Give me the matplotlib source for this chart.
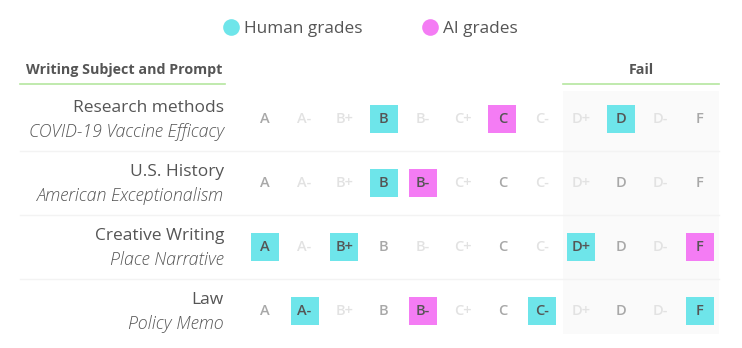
#!/usr/bin/env python

import matplotlib
matplotlib.use('Agg')
from matplotlib import pyplot as plt
from matplotlib.patches import Rectangle

# Data
grades = ['A', 'A-', 'B+', 'B', 'B-', 'C+', 'C', 'C-', 'D+', 'D', 'D-', 'F']
subjects = ['Research methods', 'U.S. History', 'Creative Writing', 'Law']
prompts = ['COVID-19 Vaccine Efficacy', 'American Exceptionalism',
           'Place Narrative', 'Policy Memo']
human_grades = [['B', 'D'], ['B'], ['A', 'B+', 'D+'], ['A-', 'C-', 'F']]
ai_grades = [['C'], ['B-'], ['F'], ['B-']]
fail_grades = ['D+', 'D', 'D-', 'F']

HUMAN = '#6ee5ea'
AI = '#f47cf4'
GREEN = '#b5e6a0'

plt.rcParams['font.family'] = ['Open Sans', 'DejaVu Sans']

W, H = 742, 348
fig = plt.figure(figsize=(W / 100, H / 100), dpi=100)
ax = fig.add_axes([0, 0, 1, 1])

# pixel layout of the grid: column i, row j
x0, dx = 265, 39.55
y0, dy = 119, 64
ax.set_xlim(-x0 / dx, (W - x0) / dx)
ax.set_ylim((H - y0) / dy, -y0 / dy)
ax.axis('off')


def px(x):
    return (x - x0) / dx


def py(y):
    return (y - y0) / dy


bw, bh = 28 / dx, 28 / dy

# fail shading + header
fi = grades.index(fail_grades[0])
fl, fr = fi - 0.5 + 0.04, len(grades) - 0.5 - 0.02
ax.add_patch(Rectangle((fl, py(91)), fr - fl, py(334) - py(91),
                       facecolor='#fafafa', edgecolor='none', zorder=0))
ax.plot([fl, fr], [py(84), py(84)], color=GREEN, lw=1.2)
ax.text((fl + fr) / 2, py(70), 'Fail', ha='center', va='center',
        fontsize=10.3, fontweight='bold', color='#555555')

ax.plot([px(20), px(225)], [py(84), py(84)], color=GREEN, lw=1.2)
ax.text(px(222), py(70), 'Writing Subject and Prompt', ha='right',
        va='center', fontsize=10.3, fontweight='bold', color='#555555')

# legend
for cx, col, lab in [(231, HUMAN, 'Human grades'), (430, AI, 'AI grades')]:
    ax.plot(px(cx), py(27), 'o', ms=12, color=col, mec='none')
    ax.text(px(cx + 13), py(29), lab, ha='left', va='center',
            fontsize=12.4, color='#555555')

for j, (subj, prm) in enumerate(zip(subjects, prompts)):
    ax.text(px(224), j + py(108) - py(119), subj, ha='right', va='center',
            fontsize=12.5, color='#555555')
    ax.text(px(224), j + py(132) - py(119), prm, ha='right', va='center',
            fontsize=12.8, style='italic', fontweight='light',
            color='#555555')
    if j < len(subjects) - 1:
        ax.plot([px(20), fr], [j + 0.5, j + 0.5], color='#f3f3f3', lw=1,
                zorder=0.5)
    for i, g in enumerate(grades):
        col = None
        if g in human_grades[j]:
            col = HUMAN
        elif g in ai_grades[j]:
            col = AI
        if col:
            ax.add_patch(Rectangle((i - bw / 2, j - bh / 2), bw, bh,
                                   facecolor=col, edgecolor='none', zorder=1))
            tc = '#555555'
        elif len(g) == 1:
            tc = '#a8a8a8'
        else:
            tc = '#e2e2e2'
        ax.text(i, j, g, ha='center', va='center', fontsize=10.5,
                fontweight='semibold', color=tc, zorder=2)

fig.savefig('out.png', dpi=100)
plt.close(fig)
